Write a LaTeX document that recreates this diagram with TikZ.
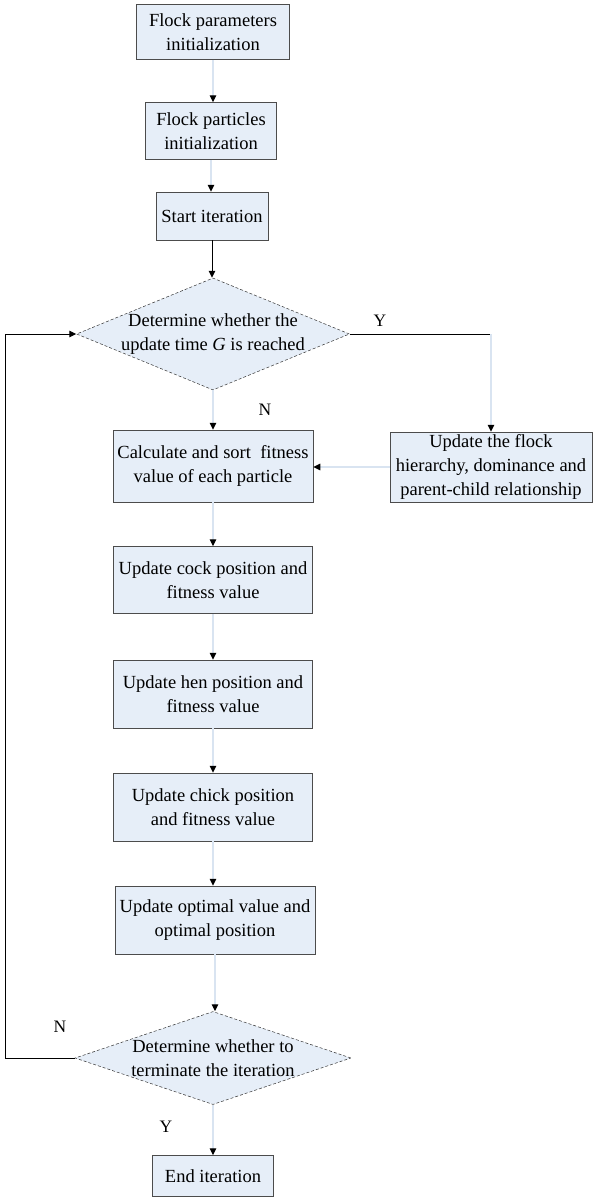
\documentclass[tikz,border=0pt]{standalone}
\usepackage{fontspec}
\setmainfont{Liberation Serif}
\usetikzlibrary{
	arrows.meta,
	shapes.geometric
}
\definecolor{boxblue}{HTML}{E6EEF8}
\definecolor{lineblue}{HTML}{D9E4F1}

\begin{document}
\begin{tikzpicture}[x=1pt,y=-1pt,
	procbox/.style={draw=black!70,line width=.5pt,fill=boxblue,align=center,inner sep=0pt,font=\fontsize{18.5}{24}\selectfont},
	decision/.style={diamond,draw=black!80,densely dashed,line width=.5pt,fill=boxblue,align=center,font=\fontsize{18.5}{24}\selectfont},
	flow/.style={draw=lineblue,line width=1.2pt,-{Triangle[black,length=7pt,width=6.5pt]}},
	mainflow/.style={draw=black,line width=1pt,-{Triangle[black,length=7pt,width=6.5pt]}},
	answer/.style={font=\fontsize{17.5}{20}\selectfont}]
	\useasboundingbox (0,0) rectangle (595,1200);

	\node[procbox,minimum width=153,minimum height=55] (fpinit) at (213,32) {Flock parameters\\initialization};
	\node[procbox,minimum width=131,minimum height=57] (ppinit) at (211,131) {Flock particles\\initialization};
	\node[procbox,minimum width=112,minimum height=48] (startit) at (212,216) {Start iteration};
	\node[decision,inner sep=-2.5pt,aspect=2.44,minimum width=273,minimum height=112] (update) at (213,334) {Determine whether the\\update time \textit{G} is reached};
	\node[procbox,minimum width=200,minimum height=72] (calc) at (213,466) {Calculate and sort\ \ fitness\\value of each particle};
	\node[procbox,minimum width=202,minimum height=70] (hier) at (491,467) {Update the flock\\hierarchy, dominance and\\parent-child relationship};
	\node[procbox,minimum width=199,minimum height=67] (cock) at (213,580) {Update cock position and\\fitness value};
	\node[procbox,minimum width=199,minimum height=68] (hen) at (213,694) {Update hen position and\\fitness value};
	\node[procbox,minimum width=199,minimum height=68] (chick) at (213,807) {Update chick position\\and fitness value};
	\node[procbox,minimum width=200,minimum height=68] (optim) at (215,920) {Update optimal value and\\optimal position};
	\node[decision,inner sep=-2pt,aspect=2.97,minimum width=276,minimum height=93] (termin) at (213,1058) {Determine whether to\\terminate the iteration};
	\node[procbox,minimum width=121,minimum height=41] (endit) at (213,1176) {End iteration};

	\node[answer] (yup) at (380,321) {Y};
	\node[answer] (nup) at (265,410) {N};
	\node[answer] (nlow) at (60,1027) {N};
	\node[answer] (ylow) at (166,1127) {Y};

	\coordinate (ycorner) at (hier.north |- update.east);
	\coordinate (loopbot) at (5,1058);
	\coordinate (looptop) at (5,334);

	\foreach \a/\b in {fpinit/ppinit, ppinit/startit, update/calc, calc/cock, cock/hen, hen/chick, chick/optim, optim/termin, termin/endit}
		\draw[flow] (\a.south) -- (\a.south |- \b.north);

	\draw[mainflow] (startit.south) -- (startit.south |- update.north);
	\draw[line width=1pt] (update.east) -- (ycorner);
	\draw[flow] (ycorner) -- (hier.north);
	\draw[flow] (hier.west) -- (calc.east |- hier.west);
	\draw[mainflow] (termin.west) -- (loopbot) -- (looptop) -- (update.west);

\end{tikzpicture}
\end{document}
